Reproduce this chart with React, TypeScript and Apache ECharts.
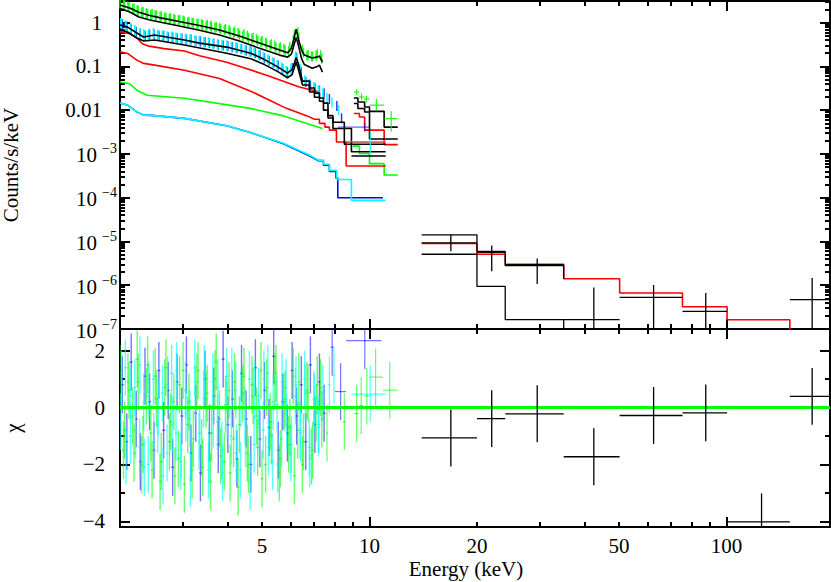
import React, { useEffect, useRef } from "react";
import * as echarts from "echarts";

const FONT = "'Liberation Serif', 'DejaVu Serif', 'Times New Roman', serif";

// ---------------- axes ----------------
const energyRange = [2, 195];
const fluxRange = [1e-7, 3.12];
const chiRange = [-4.2, 2.76];
const energyTickLabels = [5, 10, 20, 50, 100];
const energyMajorTicks = [10, 100];
const energyMinorTicks = [3, 4, 5, 6, 7, 8, 9, 20, 30, 40, 50, 60, 70, 80, 90];
const fluxDecadeExponents = [0, -1, -2, -3, -4, -5, -6, -7];
const fluxMinorMantissas = [2, 3, 4, 5, 6, 7, 8, 9];
const chiTickLabels = [-4, -2, 0, 2];
const chiMinorTicks = [-3, -1, 1];
const chiError = 1;

// ---------------- soft X-ray data (dense) ----------------
const greenSoftE = [2.00, 2.06, 2.12, 2.19, 2.25, 2.32, 2.39, 2.46, 2.53, 2.61, 2.69, 2.77, 2.85, 2.94, 3.03, 3.12, 3.21, 3.31, 3.41, 3.51, 3.61, 3.72, 3.83, 3.95, 4.07, 4.19, 4.32, 4.45, 4.58, 4.72, 4.86, 5.00, 5.15, 5.31, 5.47, 5.63, 5.80, 5.98, 6.16, 6.34, 6.53, 6.73, 6.93, 7.14, 7.35];
const greenSoftFlux = [2.70, 2.50, 2.24, 2.10, 1.86, 1.78, 1.60, 1.58, 1.44, 1.40, 1.28, 1.27, 1.17, 1.16, 1.06, 1.05, 0.97, 0.96, 0.88, 0.89, 0.80, 0.79, 0.71, 0.72, 0.62, 0.63, 0.53, 0.54, 0.45, 0.45, 0.38, 0.385, 0.32, 0.32, 0.27, 0.275, 0.235, 0.275, 0.52, 0.45, 0.205, 0.185, 0.168, 0.19, 0.15];
const greenSoftChi = [1.2, -0.8, 0.6, -1.6, 0.9, -1.3, 1.5, -2.2, 0.3, -1.9, 1.4, -0.5, -2.4, 0.8, -2.7, 0.2, -1.1, 1.3, -2.1, 0.5, -0.9, 1.6, -1.7, 0.1, -2.3, 0.9, -0.6, 1.1, -2.0, 0.4, -1.4, -2.5, 0.7, -1.0, 1.2, -1.8, 0.3, -0.7, -2.4, 0.9, -1.2, 0.5, -1.5, 0.8, -0.4];

const greenSoftE2 = [2.045, 2.105, 2.17, 2.235, 2.30, 2.37, 2.44, 2.51, 2.59, 2.67, 2.75, 2.83, 2.915, 3.005, 3.095, 3.185, 3.285, 3.385, 3.485, 3.585, 3.69, 3.80, 3.92, 4.04, 4.16, 4.285, 4.415, 4.545, 4.685, 4.825, 4.965, 5.115, 5.27, 5.43, 5.59, 5.755, 5.935, 6.115, 6.295, 6.485, 6.68, 6.88, 7.085, 7.295];
const greenSoftFlux2 = [2.55, 2.35, 2.08, 1.92, 1.72, 1.65, 1.52, 1.50, 1.36, 1.33, 1.22, 1.21, 1.13, 1.12, 1.02, 1.01, 0.93, 0.92, 0.84, 0.84, 0.76, 0.75, 0.67, 0.68, 0.58, 0.58, 0.49, 0.50, 0.42, 0.42, 0.355, 0.35, 0.30, 0.295, 0.255, 0.25, 0.225, 0.40, 0.60, 0.24, 0.175, 0.17, 0.175, 0.18];
const greenSoftChi2 = [-1.5, 0.9, -0.3, 1.7, -2.0, 0.4, -0.9, 1.1, -2.6, 0.7, -1.2, 0.2, -1.8, 1.3, -0.6, -2.2, 0.9, -1.4, 0.3, -2.6, 1.0, -0.4, -1.9, 0.6, -1.1, -2.8, 0.5, -1.6, 0.8, -0.3, 1.3, -2.0, -0.5, 0.9, -2.3, 0.2, -1.3, 1.1, -0.8, -2.0, 0.6, -1.7, -0.2, 0.7];

const blueSoftE = [2.03, 2.09, 2.15, 2.22, 2.28, 2.35, 2.42, 2.49, 2.57, 2.65, 2.73, 2.81, 2.89, 2.98, 3.07, 3.16, 3.26, 3.36, 3.46, 3.56, 3.66, 3.77, 3.89, 4.01, 4.13, 4.25, 4.38, 4.51, 4.65, 4.79, 4.93, 5.08, 5.23, 5.39, 5.55, 5.71, 5.89, 6.07, 6.25, 6.44, 6.63, 6.83, 7.03, 7.24, 7.46];
const blueSoftFlux = [0.92, 0.82, 0.72, 0.62, 0.56, 0.50, 0.53, 0.54, 0.50, 0.50, 0.46, 0.46, 0.44, 0.43, 0.41, 0.41, 0.38, 0.37, 0.355, 0.34, 0.33, 0.31, 0.30, 0.29, 0.275, 0.26, 0.25, 0.23, 0.22, 0.20, 0.18, 0.155, 0.135, 0.12, 0.105, 0.088, 0.075, 0.092, 0.16, 0.074, 0.044, 0.037, 0.032, 0.028, 0.024];
const blueSoftChi = [0.8, -1.2, 1.6, -0.4, -1.9, 1.1, 0.2, -1.5, 1.3, -0.8, 0.6, -2.1, 0.9, -0.3, 1.5, -1.6, -0.2, -2.3, 1.0, -0.9, 0.4, -1.3, 1.7, -0.6, 0.3, -1.8, 1.2, -0.4, -2.0, 1.4, -1.1, 0.6, -0.7, 1.8, -1.5, 0.2, -0.9, 1.3, -0.3, 0.8, -1.2, 1.5, -0.6, 0.9, -0.2];

const cyanSoftE = [2.01, 2.07, 2.14, 2.20, 2.27, 2.33, 2.40, 2.48, 2.55, 2.63, 2.71, 2.79, 2.87, 2.96, 3.05, 3.14, 3.24, 3.33, 3.43, 3.54, 3.64, 3.75, 3.86, 3.98, 4.10, 4.22, 4.35, 4.48, 4.61, 4.75, 4.89, 5.04, 5.19, 5.35, 5.51, 5.67, 5.84, 6.02, 6.20, 6.39, 6.58, 6.78, 6.98, 7.19, 7.40];
const cyanSoftFlux = [0.98, 0.88, 0.74, 0.68, 0.57, 0.55, 0.52, 0.58, 0.53, 0.50, 0.49, 0.47, 0.46, 0.44, 0.43, 0.41, 0.40, 0.38, 0.36, 0.355, 0.33, 0.32, 0.31, 0.30, 0.28, 0.275, 0.25, 0.24, 0.22, 0.21, 0.185, 0.165, 0.145, 0.125, 0.108, 0.094, 0.078, 0.085, 0.17, 0.09, 0.048, 0.04, 0.034, 0.029, 0.025];
const cyanSoftChi = [-0.5, 1.4, -1.0, 0.7, -1.4, 0.2, -2.0, 1.0, -0.6, 0.5, -1.6, 1.2, -0.9, -1.9, 0.6, -0.4, 1.4, -1.2, 0.3, -2.2, 0.9, -0.5, -1.5, 1.1, -1.0, 0.6, -2.2, -0.3, 1.0, -1.3, 0.4, -0.8, 1.2, -1.9, 0.1, -1.1, 0.7, -1.6, 0.4, -0.8, 1.0, -1.4, 0.3, -0.7, 0.5];

const cyanSoftE2 = [2.02, 2.08, 2.145, 2.21, 2.275, 2.34, 2.41, 2.485, 2.56, 2.64, 2.72, 2.80, 2.88, 2.97, 3.06, 3.15, 3.25, 3.345, 3.445, 3.55, 3.65, 3.76, 3.875, 3.995, 4.115, 4.235, 4.365, 4.495, 4.63, 4.77, 4.91, 5.06, 5.21, 5.37, 5.53, 5.69, 5.865, 6.045, 6.225, 6.415, 6.605, 6.805, 7.005, 7.215];
const cyanSoftFlux2 = [0.95, 0.84, 0.72, 0.63, 0.56, 0.52, 0.56, 0.55, 0.51, 0.52, 0.47, 0.48, 0.44, 0.45, 0.41, 0.42, 0.38, 0.385, 0.35, 0.35, 0.32, 0.325, 0.30, 0.30, 0.27, 0.27, 0.245, 0.24, 0.215, 0.21, 0.18, 0.16, 0.14, 0.12, 0.105, 0.09, 0.076, 0.09, 0.165, 0.08, 0.047, 0.039, 0.033, 0.028];
const cyanSoftChi2 = [1.0, -1.7, 0.4, -0.8, 1.5, -2.1, 0.6, -1.2, 0.0, -2.4, 0.8, -0.6, 1.3, -1.5, -0.2, -2.5, 0.5, -0.9, 1.2, -1.7, -0.4, 0.7, -2.3, -0.1, 1.1, -1.6, 0.3, -1.1, -2.6, 0.6, -0.7, 1.0, -1.4, 0.2, -2.0, 0.9, -0.5, -1.3, 0.8, -0.9, 0.5, -1.8, 0.2, -0.6];

const blueTailE = [7.72, 8.1, 8.35];
const blueTailFlux = [0.018, 0.0125, 0.0065];
const cyanTailE = [7.6, 7.85, 8.2];
const cyanTailFlux = [0.019, 0.015, 0.010];

// ---------------- 9-12 keV binned points ----------------
const greenHiE = [9.2, 9.5, 9.8, 10.45, 11.5];
const greenHiELo = [9.05, 9.35, 9.65, 10.0, 10.99];
const greenHiEHi = [9.35, 9.65, 10.0, 10.99, 12.0];
const greenHiFlux = [0.026, 0.020, 0.018, 0.013, 0.0064];
const greenHiFluxLo = [0.022, 0.017, 0.015, 0.010, 0.0032];
const greenHiFluxHi = [0.030, 0.024, 0.021, 0.018, 0.0094];
const blueHiE = [9.7];
const blueHiELo = [8.15];
const blueHiEHi = [10.0];
const blueHiFlux = [0.0041];
const blueHiFluxLo = [0.0032];
const blueHiFluxHi = [0.0052];
const cyanHiE = [10.05];
const cyanHiELo = [8.6];
const cyanHiEHi = [11.1];
const cyanHiFlux = [0.0019];
const cyanHiFluxLo = [0.00102];
const cyanHiFluxHi = [0.0033];

const greenResE = [7.6, 8.5, 9.2, 9.48, 9.83, 10.4, 11.4];
const greenResELo = [7.55, 8.4, 9.05, 9.35, 9.65, 10.0, 10.9];
const greenResEHi = [7.65, 8.6, 9.35, 9.6, 10.0, 10.9, 12.0];
const greenResChi = [-0.9, -0.5, -0.21, 0.07, 0.4, 1.07, 0.61];
const blueResE = [7.86, 8.3, 9.7];
const blueResELo = [7.78, 8.0, 8.6];
const blueResEHi = [7.95, 8.6, 10.8];
const blueResChi = [2.12, 0.56, 2.35];
const cyanResE = [7.72, 7.95, 10.05];
const cyanResELo = [7.66, 7.88, 8.9];
const cyanResEHi = [7.78, 8.02, 11.1];
const cyanResChi = [0.8, 1.12, 0.47];

// ---------------- hard X-ray data ----------------
const hxdE = [16.9, 22.0, 29.5, 42.5, 62.5, 87.5, 125.4, 173.8];
const hxdELo = [14.0, 20.0, 24.0, 35.0, 50.2, 75.3, 100.4, 150.5];
const hxdEHi = [20.0, 24.0, 35.0, 50.2, 75.3, 100.4, 150.5, 195];
const hxdFlux = [9.3e-6, 5.66e-6, 2.96e-6, 1.63e-7, 5.27e-7, 2.52e-7, 2.5e-8, 4.67e-7];
const hxdFluxLo = [5.97e-6, 2.08e-6, 1.07e-6, 1e-8, 1e-8, 1e-8, 1e-8, 1e-8];
const hxdFluxHi = [1.42e-5, 8.05e-6, 4.1e-6, 8.9e-7, 1.01e-6, 6.65e-7, 6.0e-8, 1.47e-6];
const hxdChi = [-1.07, -0.39, -0.22, -1.73, -0.28, -0.19, -4.02, 0.39];

// ---------------- models ----------------
const modelGreenUpper = [[2.0, 2.53], [2.13, 2.16], [2.26, 1.73], [2.41, 1.48], [2.58, 1.30], [2.93, 1.06], [3.34, 0.86], [3.80, 0.677], [4.32, 0.493], [4.92, 0.341], [5.60, 0.236], [5.90, 0.205], [6.04, 0.26], [6.13, 0.40], [6.23, 0.71], [6.33, 0.40], [6.45, 0.24], [6.57, 0.181], [6.91, 0.155], [7.15, 0.165], [7.24, 0.172], [7.38, 0.125]];
const modelGreenLower = [[2.0, 2.1], [2.13, 1.75], [2.26, 1.35], [2.41, 1.16], [2.58, 1.03], [2.93, 0.84], [3.34, 0.67], [3.80, 0.52], [4.32, 0.38], [4.92, 0.26], [5.60, 0.181], [5.90, 0.163], [6.04, 0.19], [6.13, 0.29], [6.23, 0.46], [6.33, 0.29], [6.45, 0.15], [6.57, 0.11], [6.91, 0.091], [7.15, 0.10], [7.24, 0.107], [7.38, 0.074]];
const modelCyanUpper = [[2.0, 0.88], [2.10, 0.79], [2.23, 0.58], [2.33, 0.47], [2.50, 0.52], [3.03, 0.40], [3.34, 0.34], [3.98, 0.276], [4.65, 0.20], [5.08, 0.143], [5.55, 0.096], [5.89, 0.070], [6.07, 0.086], [6.16, 0.12], [6.23, 0.16], [6.31, 0.12], [6.40, 0.075], [6.49, 0.046], [6.79, 0.046], [6.79, 0.032], [7.01, 0.032], [7.01, 0.0245], [7.24, 0.0245], [7.24, 0.019], [7.43, 0.019], [7.43, 0.0145], [7.65, 0.0145], [7.65, 0.0075], [7.9, 0.0075], [7.9, 0.0053], [8.5, 0.0053], [8.5, 0.00166], [11.1, 0.00166]];
const modelCyanLower = [[2.0, 0.677], [2.10, 0.61], [2.23, 0.445], [2.33, 0.38], [2.50, 0.40], [3.03, 0.307], [3.98, 0.20], [4.65, 0.15], [5.08, 0.11], [5.55, 0.075], [5.89, 0.055], [6.07, 0.065], [6.16, 0.095], [6.23, 0.125], [6.31, 0.09], [6.40, 0.058], [6.49, 0.0375], [6.79, 0.0375], [6.79, 0.026], [7.01, 0.026], [7.01, 0.0198], [7.24, 0.0198], [7.24, 0.016], [7.43, 0.016], [7.43, 0.010], [7.65, 0.010], [7.65, 0.0066], [7.9, 0.0066], [7.9, 0.0038], [8.9, 0.0038], [8.9, 0.00112], [11.1, 0.00112]];
const modelCyanExtra = [[8.9, 0.0009], [11.1, 0.0009]];
const modelGreenHiUpper = [[9.04, 0.019], [9.28, 0.019], [9.28, 0.0154], [9.69, 0.0154], [9.69, 0.0118], [10.0, 0.0118], [10.0, 0.0094], [10.99, 0.0094], [10.99, 0.0041], [12.0, 0.0041]];
const modelGreenHiLower = [[9.04, 0.0142], [9.28, 0.0142], [9.28, 0.0109], [9.69, 0.0109], [9.69, 0.0091], [10.0, 0.0091], [10.0, 0.0022], [12.0, 0.0022]];
const modelRedUpper = [[2.0, 0.62], [2.13, 0.56], [2.23, 0.445], [2.31, 0.33], [2.41, 0.29], [2.66, 0.255], [3.03, 0.225], [3.34, 0.175], [3.98, 0.125], [5.15, 0.063], [6.36, 0.034], [7.24, 0.026]];
const modelRedLower = [[2.0, 0.215], [2.10, 0.198], [2.23, 0.139], [2.33, 0.117], [2.50, 0.107], [3.03, 0.082], [3.80, 0.053], [4.70, 0.026], [5.85, 0.011], [6.66, 0.0075], [7.01, 0.0062], [7.24, 0.0062], [7.24, 0.005], [7.5, 0.005], [7.5, 0.0041], [7.72, 0.0041], [7.72, 0.0035], [8.08, 0.0035], [8.08, 0.00188], [11.1, 0.00188]];
const modelRedLowerTail = [[8.6, 0.00188], [8.6, 0.00053], [11.1, 0.00053]];
const modelRedHi = [[9.04, 0.0084], [9.37, 0.0084], [9.37, 0.0070], [9.69, 0.0070], [9.69, 0.0035], [10.99, 0.0035], [10.99, 0.00163], [12.0, 0.00163]];
const modelGreenFaint = [[2.0, 0.044], [2.13, 0.040], [2.23, 0.0286], [2.38, 0.022], [3.03, 0.0187], [4.63, 0.011], [5.74, 0.0074], [7.38, 0.0038]];
const modelGreenFaintTail = [[8.98, 0.00151], [9.37, 0.00151], [9.37, 0.00102], [10.0, 0.00102], [10.0, 0.0006], [10.99, 0.0006], [10.99, 0.00033], [12.0, 0.00033]];
const modelBlueFaint = [[2.0, 0.0145], [2.10, 0.013], [2.24, 0.0089], [2.33, 0.0077], [2.45, 0.0076], [3.03, 0.0065], [3.98, 0.0044], [4.63, 0.0031], [5.74, 0.0017], [6.8, 0.0009], [7.2, 0.0007], [7.43, 0.0007], [7.43, 0.00055], [7.72, 0.00055], [7.72, 0.0004], [8.06, 0.0004], [8.06, 0.00028], [8.15, 0.00028], [8.15, 0.0001], [10.9, 0.0001]];
const modelCyanFaint = [[2.0, 0.0145], [2.10, 0.013], [2.24, 0.0089], [2.33, 0.0077], [2.45, 0.0076], [3.03, 0.0065], [3.98, 0.0044], [4.63, 0.0031], [5.74, 0.00175], [6.8, 0.00093], [7.2, 0.00072], [7.43, 0.00072], [7.43, 0.00058], [7.72, 0.00058], [7.72, 0.00042], [8.1, 0.00042], [8.1, 0.00026], [8.9, 0.00026], [8.9, 0.000087], [11.1, 0.000087]];
const modelRedHxd = [[14.0, 9.0e-6], [20.0, 9.0e-6], [20.0, 5.1e-6], [24.0, 5.1e-6], [24.0, 3.0e-6], [35.0, 3.0e-6], [35.0, 1.41e-6], [50.2, 1.41e-6], [50.2, 6.65e-7], [75.3, 6.65e-7], [75.3, 3.23e-7], [100.4, 3.23e-7], [100.4, 1.63e-7], [150.5, 1.63e-7], [150.5, 1e-8]];
const modelBlackHxdA = [[14.0, 1.42e-5], [20.0, 1.42e-5], [20.0, 5.9e-6], [24.0, 5.9e-6], [24.0, 2.8e-6], [35.0, 2.8e-6], [35.0, 1.41e-6]];
const modelBlackHxdB = [[14.0, 5.1e-6], [20.0, 5.1e-6], [20.0, 9.4e-7], [24.0, 9.4e-7], [24.0, 1.63e-7], [35.0, 1.63e-7], [35.0, 1e-8]];
const chiZeroLine = [[2, 0], [195, 0]];

// ---------------- helpers ----------------
const BLACK = "#000000";
const GREEN = "#00ff00";
const RED = "#ff0000";
const BLUE = "#0000ff";
const CYAN = "#00ffff";

function crossRenderer(color: string, width: number, opacity: number) {
  return (_params: any, api: any) => {
    const x = api.value(0);
    const y = api.value(1);
    const xl = api.value(2);
    const xh = api.value(3);
    const yl = api.value(4);
    const yh = api.value(5);
    const c = api.coord([x, y]);
    const top = api.coord([x, yh]);
    const bot = api.coord([x, yl]);
    const left = xl === xh ? [c[0] - 1.5, c[1]] : api.coord([xl, y]);
    const right = xl === xh ? [c[0] + 1.5, c[1]] : api.coord([xh, y]);
    return {
      type: "group",
      children: [
        { type: "line", shape: { x1: bot[0], y1: bot[1], x2: top[0], y2: top[1] }, style: { stroke: color, lineWidth: width, opacity } },
        { type: "line", shape: { x1: left[0], y1: left[1], x2: right[0], y2: right[1] }, style: { stroke: color, lineWidth: width, opacity } },
      ],
    };
  };
}

function crossSeries(items: number[][], color: string, width: number, opacity: number, axis: number, z: number) {
  return {
    type: "custom",
    coordinateSystem: "cartesian2d",
    xAxisIndex: axis,
    yAxisIndex: axis,
    data: items,
    encode: { x: 0, y: 1 },
    renderItem: crossRenderer(color, width, opacity),
    clip: true,
    silent: true,
    z,
  };
}

function lineSeries(data: number[][], color: string, width: number, axis: number, z: number) {
  return {
    type: "line",
    data,
    xAxisIndex: axis,
    yAxisIndex: axis,
    showSymbol: false,
    symbol: "none",
    lineStyle: { color, width },
    silent: true,
    clip: true,
    z,
  };
}

function scatterSeries(es: number[], vs: number[], color: string, opacity: number) {
  return {
    type: "scatter",
    data: es.map((e, i) => [e, vs[i]]),
    xAxisIndex: 0,
    yAxisIndex: 0,
    symbol: "rect",
    symbolSize: [1.5, 10],
    itemStyle: { color, opacity },
    silent: true,
    z: 2,
  };
}

const chiItems = (es: number[], chis: number[]) => es.map((e, i) => [e, chis[i], e, e, chis[i] - chiError, chis[i] + chiError]);
const chiBinItems = (es: number[], lo: number[], hi: number[], chis: number[]) =>
  es.map((e, i) => [e, chis[i], lo[i], hi[i], chis[i] - chiError, chis[i] + chiError]);
const fluxBinItems = (es: number[], lo: number[], hi: number[], v: number[], vlo: number[], vhi: number[]) =>
  es.map((e, i) => [e, v[i], lo[i], hi[i], vlo[i], vhi[i]]);

const labelFont = { fontFamily: FONT, fontSize: 21, color: BLACK };

function energyAxes(gridIndex: number, withLabels: boolean) {
  const base: any = {
    type: "log",
    logBase: 10,
    gridIndex,
    min: energyRange[0],
    max: energyRange[1],
    splitLine: { show: false },
  };
  const major = (position: string, labels: boolean) => ({
    ...base,
    position,
    axisLine: { show: true, onZero: false, lineStyle: { color: BLACK, width: 2 } },
    axisTick: { show: true, inside: true, length: 10, lineStyle: { color: BLACK, width: 2 }, customValues: energyMajorTicks },
    axisLabel: labels
      ? {
          show: true,
          customValues: energyTickLabels,
          margin: 8,
          ...labelFont,
          formatter: (v: number) => "{t|" + Math.round(v) + "}",
          rich: { t: { ...labelFont } },
        }
      : { show: false },
  });
  const minor = (position: string) => ({
    ...base,
    position,
    axisLine: { show: false, onZero: false },
    axisTick: { show: true, inside: true, length: 5, lineStyle: { color: BLACK, width: 2 }, customValues: energyMinorTicks },
    axisLabel: { show: false },
  });
  return [major("bottom", withLabels), minor("bottom"), major("top", false), minor("top")];
}

function fluxAxes() {
  const majorVals = fluxDecadeExponents.map((e) => Number("1e" + e));
  const minorVals: number[] = [];
  fluxDecadeExponents.forEach((e) => {
    fluxMinorMantissas.forEach((m) => {
      const v = Number(m + "e" + e);
      if (v < fluxRange[1]) minorVals.push(v);
    });
  });
  const base: any = { type: "log", logBase: 10, gridIndex: 0, min: fluxRange[0], max: fluxRange[1], splitLine: { show: false } };
  const major = (position: string, labels: boolean) => ({
    ...base,
    position,
    axisLine: { show: true, onZero: false, lineStyle: { color: BLACK, width: 2 } },
    axisTick: { show: true, inside: true, length: 10, lineStyle: { color: BLACK, width: 2 }, customValues: majorVals },
    axisLabel: labels
      ? {
          show: true,
          customValues: majorVals,
          margin: 3,
          ...labelFont,
          formatter: (v: number) => {
            const e = Math.round(Math.log10(v));
            if (e >= -2) return "{d|" + Number("1e" + e).toFixed(-e) + "}";
            return "{b|10}{s|\u2212" + -e + "}";
          },
          rich: {
            d: { ...labelFont, padding: [0, 15, 0, 0] },
            b: { ...labelFont, lineHeight: 24, verticalAlign: "bottom" },
            s: { fontFamily: FONT, fontSize: 14, color: BLACK, lineHeight: 10, verticalAlign: "top", padding: [0, 0, 0, 5] },
          },
        }
      : { show: false },
  });
  const minor = (position: string) => ({
    ...base,
    position,
    axisLine: { show: false, onZero: false },
    axisTick: { show: true, inside: true, length: 5, lineStyle: { color: BLACK, width: 2 }, customValues: minorVals },
    axisLabel: { show: false },
  });
  const left = {
    ...major("left", true),
    name: "Counts/s/keV",
    nameLocation: "middle",
    nameGap: 99,
    nameTextStyle: labelFont,
  };
  return [left, minor("left"), major("right", false), minor("right")];
}

function chiAxes() {
  const base: any = { type: "value", gridIndex: 1, min: chiRange[0], max: chiRange[1], splitLine: { show: false } };
  const major = (position: string, labels: boolean) => ({
    ...base,
    position,
    axisLine: { show: true, onZero: false, lineStyle: { color: BLACK, width: 2 } },
    axisTick: { show: true, inside: true, length: 10, lineStyle: { color: BLACK, width: 2 }, customValues: chiTickLabels },
    axisLabel: labels
      ? {
          show: true,
          customValues: chiTickLabels,
          margin: 15,
          ...labelFont,
          formatter: (v: number) => "{t|" + (v < 0 ? "\u2212" + Math.abs(v) : String(v)) + "}",
          rich: { t: { ...labelFont } },
        }
      : { show: false },
  });
  const minor = (position: string) => ({
    ...base,
    position,
    axisLine: { show: false, onZero: false },
    axisTick: { show: true, inside: true, length: 5, lineStyle: { color: BLACK, width: 2 }, customValues: chiMinorTicks },
    axisLabel: { show: false },
  });
  const left = {
    ...major("left", true),
    name: "\u03c7",
    nameLocation: "middle",
    nameGap: 97,
    nameTextStyle: labelFont,
  };
  return [left, minor("left"), major("right", false), minor("right")];
}

function buildOption() {
  const xTop = energyAxes(0, false);
  const xBottom = energyAxes(1, true);
  xBottom[0] = {
    ...xBottom[0],
    name: "Energy (keV)",
    nameLocation: "middle",
    nameGap: 31,
    nameTextStyle: { ...labelFont, padding: [0, 18, 0, 0] },
  };

  const series: any[] = [
    // faint model components
    lineSeries(modelBlueFaint, BLUE, 1.6, 0, 1),
    lineSeries(modelCyanFaint, CYAN, 1.6, 0, 1),
    lineSeries(modelGreenFaint, GREEN, 1.6, 0, 1),
    lineSeries(modelGreenFaintTail, GREEN, 1.6, 0, 1),
    lineSeries(modelRedUpper, RED, 1.6, 0, 1),
    lineSeries(modelRedLower, RED, 1.6, 0, 1),
    lineSeries(modelRedLowerTail, RED, 1.6, 0, 1),
    lineSeries(modelRedHi, RED, 1.6, 0, 1),
    // dense data
    scatterSeries(greenSoftE, greenSoftFlux, GREEN, 0.9),
    scatterSeries(greenSoftE2, greenSoftFlux2, GREEN, 0.9),
    scatterSeries(blueSoftE, blueSoftFlux, BLUE, 0.8),
    scatterSeries(cyanSoftE, cyanSoftFlux, CYAN, 0.9),
    scatterSeries(cyanSoftE2, cyanSoftFlux2, CYAN, 0.9),
    scatterSeries(blueTailE, blueTailFlux, BLUE, 0.8),
    scatterSeries(cyanTailE, cyanTailFlux, CYAN, 0.9),
    // total models
    lineSeries(modelGreenUpper, BLACK, 1.6, 0, 3),
    lineSeries(modelGreenLower, BLACK, 1.6, 0, 3),
    lineSeries(modelCyanUpper, BLACK, 1.6, 0, 3),
    lineSeries(modelCyanLower, BLACK, 1.6, 0, 3),
    lineSeries(modelCyanExtra, BLACK, 1.6, 0, 3),
    lineSeries(modelGreenHiUpper, BLACK, 1.6, 0, 3),
    lineSeries(modelGreenHiLower, BLACK, 1.6, 0, 3),
    // binned crosses 9-12 keV
    crossSeries(fluxBinItems(greenHiE, greenHiELo, greenHiEHi, greenHiFlux, greenHiFluxLo, greenHiFluxHi), GREEN, 1.2, 0.9, 0, 4),
    crossSeries(fluxBinItems(blueHiE, blueHiELo, blueHiEHi, blueHiFlux, blueHiFluxLo, blueHiFluxHi), BLUE, 1.2, 0.6, 0, 4),
    crossSeries(fluxBinItems(cyanHiE, cyanHiELo, cyanHiEHi, cyanHiFlux, cyanHiFluxLo, cyanHiFluxHi), CYAN, 1.2, 0.9, 0, 4),
    // hard X-ray
    lineSeries(modelRedHxd, RED, 1.6, 0, 4),
    lineSeries(modelBlackHxdA, BLACK, 1.3, 0, 4),
    lineSeries(modelBlackHxdB, BLACK, 1.3, 0, 4),
    crossSeries(fluxBinItems(hxdE, hxdELo, hxdEHi, hxdFlux, hxdFluxLo, hxdFluxHi), BLACK, 1.3, 1, 0, 5),
    // residuals
    crossSeries(chiItems(blueSoftE, blueSoftChi), BLUE, 1.4, 0.55, 4, 2),
    crossSeries(chiItems(cyanSoftE, cyanSoftChi), CYAN, 1.4, 0.65, 4, 2),
    crossSeries(chiItems(cyanSoftE2, cyanSoftChi2), CYAN, 1.4, 0.65, 4, 2),
    crossSeries(chiItems(greenSoftE, greenSoftChi), GREEN, 1.4, 0.6, 4, 2),
    crossSeries(chiItems(greenSoftE2, greenSoftChi2), GREEN, 1.4, 0.6, 4, 2),
    crossSeries(chiBinItems(blueResE, blueResELo, blueResEHi, blueResChi), BLUE, 1.2, 0.55, 4, 2),
    crossSeries(chiBinItems(cyanResE, cyanResELo, cyanResEHi, cyanResChi), CYAN, 1.2, 0.65, 4, 2),
    crossSeries(chiBinItems(greenResE, greenResELo, greenResEHi, greenResChi), GREEN, 1.2, 0.6, 4, 2),
    lineSeries(chiZeroLine, GREEN, 3, 4, 3),
    crossSeries(chiBinItems(hxdE, hxdELo, hxdEHi, hxdChi), BLACK, 1.3, 1, 4, 5),
  ];

  return {
    animation: false,
    backgroundColor: "#ffffff",
    textStyle: { fontFamily: FONT },
    grid: [
      { left: 120, top: 1, width: 710, height: 328, containLabel: false, outerBoundsMode: "none" },
      { left: 120, top: 329, width: 710, height: 198, containLabel: false, outerBoundsMode: "none" },
    ],
    xAxis: [...xTop, ...xBottom],
    yAxis: [...fluxAxes(), ...chiAxes()],
    series,
  };
}

export default function App() {
  const ref = useRef<HTMLDivElement>(null);
  useEffect(() => {
    if (!ref.current) return;
    const chart = echarts.init(ref.current, undefined, { renderer: "svg" });
    chart.setOption(buildOption() as any);
    return () => chart.dispose();
  }, []);
  return (
    <div
      ref={ref}
      style={{ position: "fixed", left: 0, top: 0, width: 831, height: 582, background: "#ffffff" }}
    />
  );
}
